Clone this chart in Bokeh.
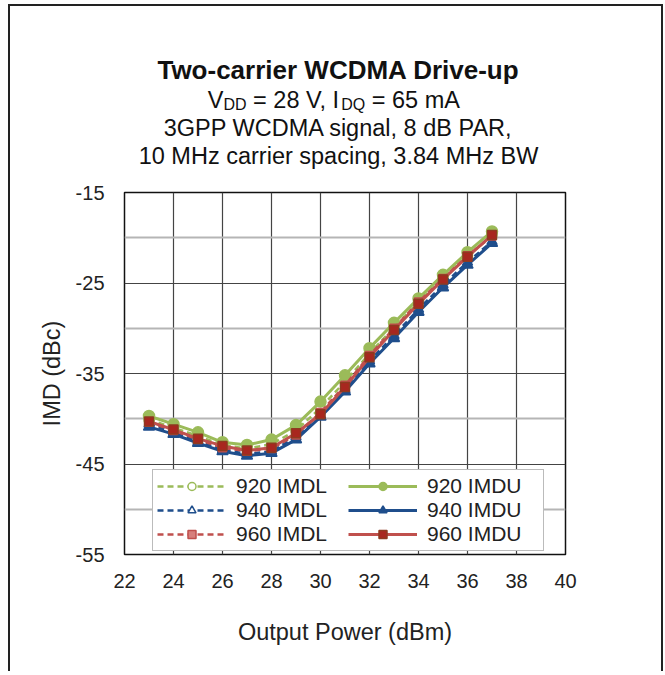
from bokeh.plotting import figure
from bokeh.layouts import column
from bokeh.models import (Legend, LegendItem, Grid, FixedTicker, ColumnDataSource)
from bokeh.embed import file_html
from bokeh.resources import INLINE
from bokeh.core.properties import value

# ---- data ----
power = [23, 24, 25, 26, 27, 28, 29, 30, 31, 32, 33, 34, 35, 36, 37]
imdl_920 = [-40.1, -41.0, -41.9, -42.9, -43.3, -42.8, -41.3, -38.8, -35.9, -32.8, -29.9, -27.1, -24.5, -22.0, -19.7]
imdu_920 = [-39.7, -40.6, -41.5, -42.6, -42.9, -42.3, -40.7, -38.1, -35.2, -32.2, -29.4, -26.7, -24.1, -21.6, -19.3]
imdl_940 = [-40.6, -41.5, -42.5, -43.4, -43.9, -43.6, -42.0, -39.6, -36.8, -33.6, -30.8, -27.9, -25.2, -22.7, -20.4]
imdu_940 = [-40.9, -41.7, -42.7, -43.6, -44.1, -43.8, -42.3, -39.8, -37.0, -33.9, -31.1, -28.2, -25.5, -23.0, -20.6]
imdl_960 = [-40.4, -41.3, -42.3, -43.2, -43.6, -43.3, -41.8, -39.3, -36.3, -33.0, -30.0, -27.1, -24.5, -22.0, -19.8]
imdu_960 = [-40.3, -41.2, -42.2, -43.0, -43.5, -43.2, -41.6, -39.5, -36.5, -33.2, -30.2, -27.3, -24.6, -22.1, -19.7]

x_ticks = [22, 24, 26, 28, 30, 32, 34, 36, 38, 40]
y_ticks = [-55, -45, -35, -25, -15]
y_tick_labels = {-55: "-55", -45: "-45", -35: "-35", -25: "-25", -15: "-15"}
y_minor = [-50, -40, -30, -20]

title_text = "Two-carrier WCDMA Drive-up"
sub_line3 = "3GPP WCDMA signal, 8 dB PAR,"
sub_line4 = "10 MHz carrier spacing, 3.84 MHz BW"

GREEN = "#9BBB59"
BLUE = "#1F4E8C"
RED = "#C0504D"
FONT = "Liberation Sans"
W = 651
BL, BR = 114, 96   # side borders of the chart (the title canvas is frame-aligned with it)

# ---- title block (text-only canvas; x = pixels from canvas left, y = pixels from top) ----
top = figure(width=W, height=170, x_range=(BL, W - BR), y_range=(170, 0),
             x_axis_type=None, y_axis_type=None, output_backend="svg",
             toolbar_location=None, min_border=0)
top.outline_line_color = None
top.background_fill_color = "white"
top.border_fill_color = "white"

def txt(fig, x, y, s, size, style="normal", align="left"):
    fig.text(x=[x], y=[y], text=[s], text_font=value(FONT), text_font_size=size,
             text_font_style=style, text_color="#111", text_align=align,
             text_baseline="alphabetic")

txt(top, 328, 63, title_text, "26px", "bold", "center")
txt(top, 197.3, 93, "V", "23.5px")
txt(top, 213.0, 98, "DD", "16px")
txt(top, 242.6, 93, "= 28 V, I", "23.5px")
txt(top, 330.8, 98, "DQ", "16px")
txt(top, 361.3, 93, "= 65 mA", "23.5px")
txt(top, 328, 121, sub_line3, "23.5px", align="center")
txt(top, 328, 149, sub_line4, "23.5px", align="center")

# ---- main chart ----
p = figure(width=W, height=495, x_range=(22, 40), y_range=(-55, -15),
           output_backend="svg", toolbar_location=None,
           min_border_left=BL, min_border_right=BR, min_border_top=16, min_border_bottom=117)
p.background_fill_color = "white"
p.border_fill_color = "white"
p.outline_line_color = "#111"
p.outline_line_width = 1.5

p.xaxis.ticker = FixedTicker(ticks=x_ticks)
p.yaxis.ticker = FixedTicker(ticks=y_ticks)
p.yaxis.major_label_overrides = y_tick_labels
for ax in (p.xaxis[0], p.yaxis[0]):
    ax.axis_line_color = None
    ax.major_tick_line_color = None
    ax.minor_tick_line_color = None
    ax.major_tick_out = 0
    ax.major_tick_in = 0
    ax.major_label_text_font = FONT
    ax.major_label_text_font_size = "20px"
    ax.major_label_text_color = "#222"
    ax.axis_label_text_font = FONT
    ax.axis_label_text_font_size = "23.5px"
    ax.axis_label_text_font_style = "normal"
    ax.axis_label_text_color = "#222"
p.xaxis.axis_label = "Output Power (dBm)"
p.yaxis.axis_label = "IMD (dBc)"
p.xaxis.major_label_standoff = 19
p.yaxis.major_label_standoff = 20
p.xaxis.axis_label_standoff = 28
p.yaxis.axis_label_standoff = 8

p.xgrid.grid_line_color = "#444"
p.xgrid.grid_line_width = 1.2
p.ygrid.grid_line_color = "#444"
p.ygrid.grid_line_width = 1.2
p.add_layout(Grid(dimension=1, ticker=FixedTicker(ticks=y_minor),
                  grid_line_color="#B5B5B5", grid_line_width=2))

series = [
    ("920 IMDL", imdl_920, GREEN, "dashed", "circle", "white", GREEN, 10),
    ("920 IMDU", imdu_920, GREEN, "solid", "circle", GREEN, GREEN, 11),
    ("940 IMDL", imdl_940, BLUE, "dashed", "triangle", "white", BLUE, 10),
    ("940 IMDU", imdu_940, BLUE, "solid", "triangle", BLUE, BLUE, 11),
    ("960 IMDL", imdl_960, RED, "dashed", "square", "#D77F7C", RED, 8),
    ("960 IMDU", imdu_960, RED, "solid", "square", "#A8271F", "#8E3A20", 9),
]
items = {}
for name, ys, col, dash, marker, fill, mline, size in series:
    src = ColumnDataSource(dict(x=power, y=ys))
    lw = 2.5 if dash == "dashed" else 3
    r1 = p.line("x", "y", source=src, line_color=col, line_width=lw,
                line_dash="6 4" if dash == "dashed" else "solid")
    r2 = p.scatter("x", "y", source=src, marker=marker, size=size,
                   fill_color=fill, line_color=mline, line_width=1.5)
    items[name] = LegendItem(label=name, renderers=[r1, r2])

# column-major fill: first column = IMDL series, second column = IMDU series
legend = Legend(items=[items[n] for n in ["920 IMDL", "940 IMDL", "960 IMDL", "920 IMDU", "940 IMDU", "960 IMDU"]],
                ncols=2, location=(28, 3),
                label_text_font=FONT, label_text_font_size="21px", label_text_color="#222",
                glyph_width=69, glyph_height=20, label_height=20, label_width=112,
                label_standoff=10, spacing=0, padding=4, margin=0,
                border_line_color="#777", border_line_width=1.5,
                background_fill_color="white", background_fill_alpha=1.0)
p.add_layout(legend, "center")

page = column(top, p, spacing=0,
              styles={"border-left": "2px solid #222", "border-top": "2px solid #222",
                      "border-right": "2px solid #222", "margin-left": "8px", "margin-top": "4px"})

open("out.html", "w").write(file_html(page, INLINE))
